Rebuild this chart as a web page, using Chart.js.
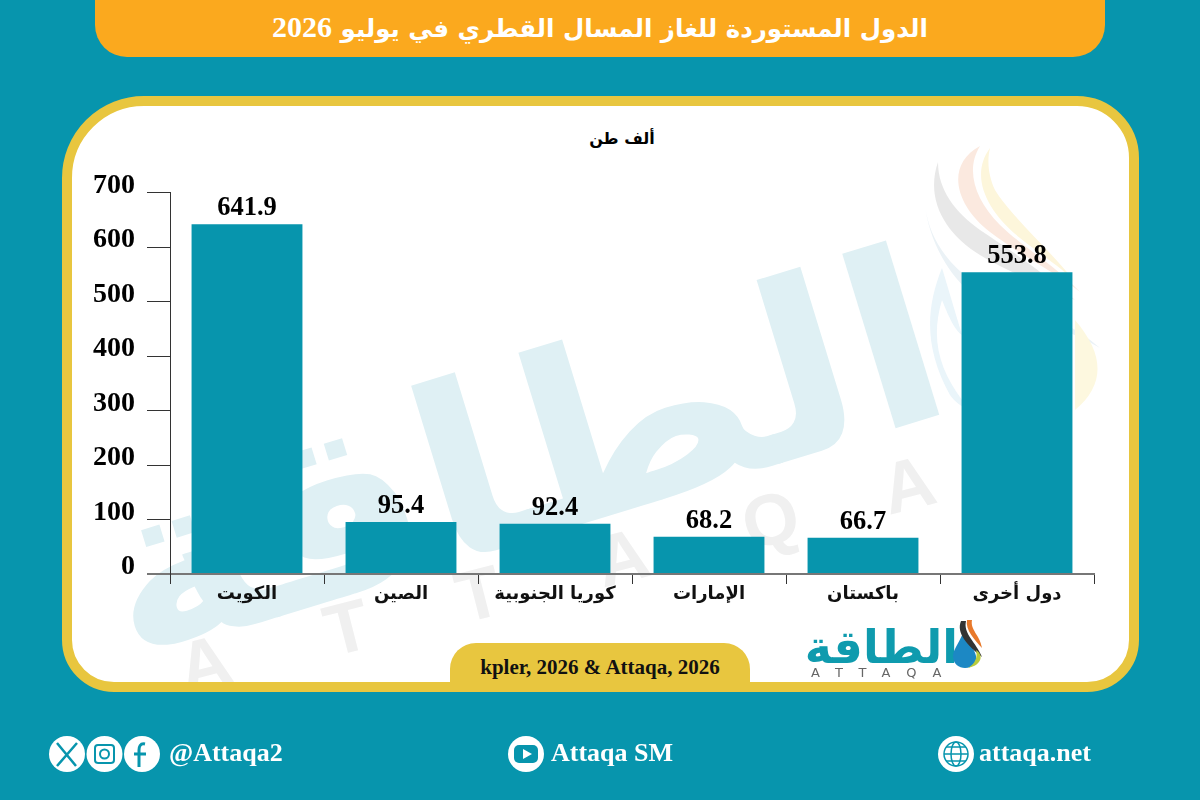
<!DOCTYPE html>
<html lang="ar"><head><meta charset="utf-8">
<script src="https://cdn.jsdelivr.net/npm/chart.js@4"></script>
<style>
html,body{margin:0;padding:0;width:1200px;height:800px;overflow:hidden;background:#0795ad}
.a{position:absolute}
#stage{position:relative;width:1200px;height:800px;overflow:hidden;background:#0795ad}
#panel{left:62px;top:96px;width:1057px;height:576px;background:#fff;border:10px solid #e8c63f;border-radius:82px 62px 52px 52px;overflow:hidden}
#hdr{left:95px;top:-40px;width:1010px;height:97px;background:#fba91e;border-radius:0 0 32px 32px}
.t{white-space:nowrap;font-family:"Liberation Serif","DejaVu Sans",serif;font-weight:700}
#title{left:0;width:1200px;top:7px;text-align:center;color:#fff;font-size:24.500px;line-height:40px;direction:rtl;font-family:"DejaVu Sans";letter-spacing:-1.2px}
#title span{font-family:"Liberation Serif";font-size:30px;letter-spacing:0}
#unit{left:522px;width:200px;top:126px;text-align:center;color:#000;font-size:16px;line-height:26px;font-family:"DejaVu Sans";letter-spacing:-.6px}
#src{left:450px;top:643px;width:300px;height:47px;background:#e8c63f;border-radius:26px 26px 0 0;text-align:center;line-height:48px;font-size:21px;color:#111}
canvas{position:absolute;left:0;top:0}
.ft{color:#fff;font-size:26px;line-height:30px;top:738px}
svg{position:absolute;left:0;top:0}
#logo{left:758px;width:200px;top:619px;text-align:right;direction:rtl;font-family:"DejaVu Sans";font-size:46px;line-height:56px;color:#0f9bae}
</style></head><body>
<div id="stage">
<div id="panel" class="a"></div>
<svg width="1200" height="800" style="pointer-events:none">
  <defs><clipPath id="pc"><rect x="72" y="106" width="1057" height="576" rx="72"/></clipPath></defs>
  <g clip-path="url(#pc)">
    <g transform="translate(515,440) rotate(-17)" text-anchor="middle">
      <text x="0" y="100" direction="rtl" font-family="DejaVu Sans" font-weight="700" font-size="240" fill="#dff0f4" textLength="870" lengthAdjust="spacingAndGlyphs">الطاقة</text>
    </g>
    <g transform="translate(556,573) rotate(-14.300)" font-family="Liberation Sans" font-weight="700" font-size="72" fill="#f0f0f0" text-anchor="middle">
      <text x="-363" y="26">A</text><text x="-216" y="26">T</text><text x="-80" y="26">T</text><text x="68" y="26">A</text><text x="221" y="26">Q</text><text x="363" y="26">A</text>
    </g>
    <g opacity=".9">
      <path d="M938 162C925 200 945 235 985 258C1015 275 1045 285 1075 300C1040 270 1010 250 980 230C955 212 938 190 938 162Z" fill="#e6e6e6"/>
      <path d="M980 146C945 165 955 205 990 232C1020 255 1060 275 1080 292C1055 265 1020 245 1000 225C975 200 965 170 980 146Z" fill="#fbe7dc"/>
      <path d="M990 148C970 175 985 210 1020 238C1045 258 1065 270 1075 282C1050 250 1010 215 995 190C988 175 987 160 990 148Z" fill="#fdf5d8"/>
      <path d="M925 205C930 250 965 285 1010 300C1040 312 1075 325 1100 348C1070 330 1040 322 1000 312C960 295 930 250 925 205Z" fill="#e9f1f6"/>
      <path d="M942 268C925 310 925 350 950 395C965 415 985 413 962 400C940 370 930 340 942 300C950 320 955 330 962 335Z" fill="#e8f4fa"/>
      <path d="M1075 320C1105 355 1105 385 1075 410Z" fill="#fdf8dc"/>
    </g>
  </g>
</svg>
<div id="hdr" class="a"></div>
<div id="title" class="a t">الدول المستوردة للغاز المسال القطري في يوليو <span>2026</span></div>
<div id="unit" class="a t">ألف طن</div>
<canvas id="c" width="1200" height="800" style="width:1200px;height:800px"></canvas>
<div id="src" class="a t">kpler, 2026 &amp; Attaqa, 2026</div>
<div id="logo" class="a t">الطاقة</div>
<svg width="1200" height="800">
  <text x="811" y="677" font-family="DejaVu Sans" font-size="13" fill="#666" letter-spacing="16">ATTAQA</text>
  <path d="M964 631C958 645 953 650 953 656C953 664 959 668 965 668C973 668 977 662 976 656C975 650 969 643 964 631Z" fill="#1c88c4"/>
  <path d="M961 621C956 633 967 645 982 657C976 642 963 634 966 621Z" fill="#333"/>
  <path d="M967 620C965 630 975 640 982 648C980 635 970 630 972 620Z" fill="#e8792b"/>
  <path d="M976 650C984 655 982 665 968 668C975 664 978 657 976 650Z" fill="#b9cc3c"/>
  <g fill="#fff"><circle cx="67" cy="754" r="18"/><circle cx="104.500" cy="754" r="18"/><circle cx="142" cy="754" r="18"/><circle cx="526" cy="754" r="18"/><circle cx="956" cy="754" r="18"/></g>
  <g stroke="#0795ad" fill="none">
    <path d="M57 743L76 766M77 743L57 766" stroke-width="2.500"/>
    <rect x="95" y="745" width="19" height="18" rx="3" stroke-width="2"/><circle cx="104.500" cy="754" r="4.500" stroke-width="2"/>
    <path d="M145 744C140 743 139 747 139 750V767M134 754H146" stroke-width="3"/>
    <circle cx="956" cy="754" r="12" stroke-width="1.500"/><ellipse cx="956" cy="754" rx="5" ry="12" stroke-width="1.500"/><path d="M944 754H968M946 747H966M946 761H966" stroke-width="1.500"/>
  </g>
  <rect x="514" y="745" width="24" height="18" rx="5" fill="#0795ad"/><path d="M523 749V759L532 754Z" fill="#fff"/>
</svg>
<div class="a t ft" style="left:169px">@Attaqa2</div>
<div class="a t ft" style="left:551px">Attaqa SM</div>
<div class="a t ft" style="left:979px">attaqa.net</div>
</div>
<script>
const categories = ["الكويت","الصين","كوريا الجنوبية","الإمارات","باكستان","دول أخرى"];
const values = [641.9,95.4,92.4,68.2,66.7,553.8];
const yTickValues = [0,100,200,300,400,500,600,700];
const barColor = "#0795ad";

const valueLabels = {
  id:"valueLabels",
  afterDatasetsDraw(chart){
    const {ctx} = chart;
    ctx.save();
    ctx.font = '700 26.5px "Liberation Serif"';
    ctx.fillStyle = "#000";
    ctx.textAlign = "center";
    ctx.textBaseline = "alphabetic";
    chart.getDatasetMeta(0).data.forEach((bar,i)=>{
      ctx.fillText(values[i].toFixed(1), bar.x, bar.y-9);
    });
    ctx.restore();
  }
};

new Chart(document.getElementById("c"),{
  type:"bar",
  data:{labels:categories,datasets:[{data:values,backgroundColor:barColor,barPercentage:.72,categoryPercentage:1}]},
  plugins:[valueLabels],
  options:{
    responsive:false,animation:false,
    layout:{padding:{top:192.5,right:106,left:0,bottom:0}},
    plugins:{legend:{display:false},tooltip:{enabled:false},title:{display:false}},
    scales:{
      x:{
        afterFit(s){s.height=226;},
        grid:{display:true,drawOnChartArea:false,drawTicks:true,tickLength:10,color:"#333",lineWidth:1},
        border:{display:true,color:"#777",width:2},
        ticks:{padding:0,autoSkip:false,maxRotation:0,color:"#111",font:{family:'"DejaVu Sans"',weight:"700",size:18}}
      },
      y:{
        min:0,max:700,
        afterFit(s){s.width=170;},
        afterBuildTicks(s){s.ticks=yTickValues.map(v=>({value:v}));},
        grid:{display:true,drawOnChartArea:false,drawTicks:true,tickLength:23,color:c=>c.tick&&c.tick.value===0?"#777":"#333",lineWidth:c=>c.tick&&c.tick.value===0?2:1},
        border:{display:true,color:"#333",width:1},
        ticks:{padding:12,labelOffset:-7,color:"#000",font:{family:'"Liberation Serif"',weight:"700",size:28}}
      }
    }
  }
});
</script>
</body></html>
